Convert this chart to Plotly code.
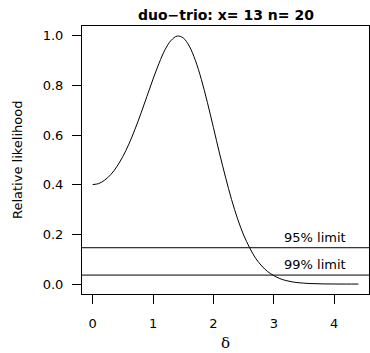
import plotly.graph_objects as go

# data
delta = [0.0, 0.1, 0.2, 0.3, 0.4, 0.5, 0.6, 0.7, 0.8, 0.9, 1.0, 1.1, 1.2, 1.3,
         1.4, 1.5, 1.6, 1.7, 1.8, 1.9, 2.0, 2.1, 2.2, 2.3, 2.4, 2.5, 2.6, 2.7,
         2.8, 2.9, 3.0, 3.1, 3.2, 3.3, 3.4, 3.6, 3.8, 4.0, 4.2, 4.4]
rel_lik = [0.401, 0.405, 0.419, 0.441, 0.473, 0.514, 0.564, 0.623, 0.688,
           0.757, 0.826, 0.890, 0.945, 0.982, 0.9995, 0.992, 0.959, 0.902,
           0.825, 0.732, 0.631, 0.528, 0.431, 0.341, 0.263, 0.198, 0.146,
           0.1035, 0.073, 0.050, 0.034, 0.0221, 0.0143, 0.0090, 0.0057,
           0.0022, 0.0008, 0.0003, 0.0001, 0.00003]
limit_labels = ["95% limit", "99% limit"]
limit_values = [0.1465, 0.0362]
x_ticks = [0, 1, 2, 3, 4]
y_ticks = [0.0, 0.2, 0.4, 0.6, 0.8, 1.0]
title_text = "duo\u2212trio: x= 13 n= 20"

FONT = "DejaVu Sans"

fig = go.Figure()
fig.add_trace(go.Scatter(x=delta, y=rel_lik, mode="lines",
                         line=dict(color="black", width=1, shape="spline", smoothing=1.0),
                         showlegend=False, hoverinfo="skip"))

for lab, val in zip(limit_labels, limit_values):
    fig.add_shape(type="line", xref="paper", x0=0, x1=1, yref="y", y0=val, y1=val,
                  line=dict(color="black", width=1))
    fig.add_annotation(x=3.68, y=val, xref="x", yref="y", text=lab, showarrow=False,
                       yanchor="bottom", yshift=1, font=dict(family=FONT, size=13, color="black"))

# title and axis titles
fig.add_annotation(x=0.5, y=1, xref="paper", yref="paper", text="<b>" + title_text + "</b>",
                   showarrow=False, yanchor="bottom", yshift=1,
                   font=dict(family=FONT, size=14, color="black"))
fig.add_annotation(x=0.5, y=0, xref="paper", yref="paper", text="\u03b4",
                   showarrow=False, yanchor="middle", yshift=-49,
                   font=dict(family="DejaVu Serif", size=15, color="black"))
fig.add_annotation(x=0, y=0.5, xref="paper", yref="paper", text="Relative likelihood",
                   showarrow=False, xanchor="center", xshift=-65, textangle=-90,
                   font=dict(family=FONT, size=13, color="black"))

fig.update_xaxes(range=[-0.176, 4.576], tickvals=x_ticks, ticks="outside", ticklen=9,
                 tickcolor="black", showline=True, linecolor="black", linewidth=1, mirror=True,
                 showgrid=False, zeroline=False, ticklabelstandoff=8,
                 tickfont=dict(family=FONT, size=13, color="black"))
fig.update_yaxes(range=[-0.04, 1.04], tickvals=y_ticks, tickformat=".1f", ticks="outside",
                 ticklen=9, tickcolor="black", showline=True, linecolor="black", linewidth=1,
                 mirror=True, showgrid=False, zeroline=False, ticklabelstandoff=6,
                 tickfont=dict(family=FONT, size=13, color="black"))

fig.update_layout(width=370, height=353, margin=dict(l=82, r=1, t=26, b=59),
                  plot_bgcolor="white", paper_bgcolor="white")

fig.write_html("out.html")
